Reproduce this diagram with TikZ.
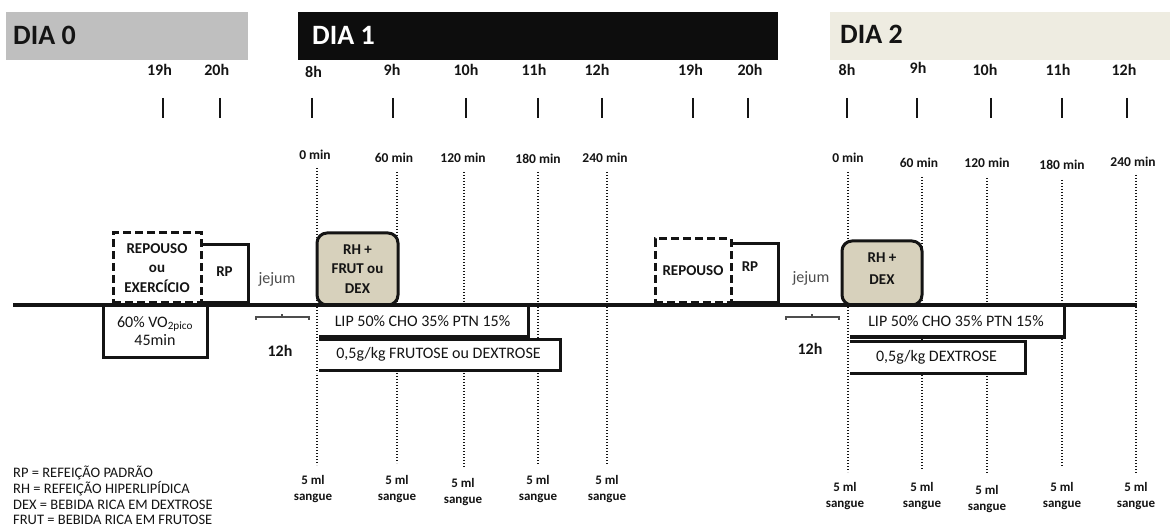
\documentclass[tikz,border=0pt]{standalone}
\usepackage{fontspec}
\setmainfont{Carlito}
\definecolor{hgray}{HTML}{BFBFBF}
\definecolor{hblack}{HTML}{0D0D0D}
\definecolor{hbeige}{HTML}{EEECE1}
\definecolor{tanfill}{HTML}{D7D1BC}
\definecolor{txt}{HTML}{141414}
\definecolor{jej}{HTML}{4D4D4D}
\begin{document}
\begin{tikzpicture}[x=1pt,y=-1pt,
  hdr/.style={font=\fontsize{28}{30}\selectfont\bfseries, anchor=base west, inner sep=0},
  bar/.style={anchor=north west, inner sep=0, minimum height=48pt},
  hr/.style={font=\fontsize{16}{18}\selectfont\bfseries, text=txt, anchor=base, inner sep=0},
  mn/.style={font=\fontsize{13.5}{15}\selectfont\bfseries, text=txt, anchor=base, inner sep=0},
  sg/.style={font=\fontsize{13}{15}\selectfont\bfseries, text=txt, anchor=base, inner sep=0},
  tk/.style={line width=1.4pt, draw=txt},
  dotl/.style={line width=2.3pt, dash pattern=on 1.4pt off 1.6pt, draw=txt},
  heavy/.style={line width=3pt, draw=txt},
  dbox/.style={draw=txt, line width=3pt, dash pattern=on 8pt off 4pt, align=center, inner sep=0, font=\fontsize{15}{19.5}\selectfont\bfseries, text=txt},
  bbox/.style={draw=txt, line width=3pt, fill=white, inner sep=0, align=center, font=\fontsize{16}{18}\selectfont, text=txt},
  rhbox/.style={draw=txt, line width=3pt, fill=tanfill, rounded corners=10pt, inner sep=0, align=center, font=\fontsize{15}{19.5}\selectfont\bfseries, text=txt},
  bt/.style={font=\fontsize{15}{18}\selectfont\bfseries, text=txt, anchor=base, inner sep=0},
  jj/.style={font=\fontsize{16}{18}\selectfont, text=jej, anchor=base, inner sep=0},
  lg/.style={font=\fontsize{14.5}{16}\selectfont, text=txt, anchor=base west, inner sep=0},
  brk/.style={line width=1.1pt, draw=jej},
]
\useasboundingbox[fill=white] (0,0) rectangle (1170,529);

% header bars
\node[bar, fill=hgray, minimum width=242pt] (bar0) at (6,12) {};
\node[bar, fill=hblack, minimum width=480pt] (bar1) at (298,12) {};
\node[bar, fill=hbeige, minimum width=340pt] (bar2) at (830,12) {};
\node[hdr, text=txt] (dia0) at (13,45) {DIA 0};
\node[hdr, text=white] (dia1) at (312,45) {DIA 1};
\node[hdr, text=txt] (dia2) at (840,44) {DIA 2};

% hour labels
\foreach \n/\x/\y/\lbl in {a/159.5/76/19h, b/216.7/76/20h, c/313.5/78/8h, d/392/76/9h, e/466/76/10h, f/534/76/11h, g/597/76/12h, h/690.5/76/19h, i/750/76/20h, j/847/76/8h, k/918/74/9h, l/985/76/10h, m/1058/76/11h, n/1124/76/12h}
  {\node[hr] (hr\n) at (\x,\y) {\lbl};}

% ticks
\foreach \n/\x in {a/163, b/220, c/312, d/393, e/466, f/538, g/602, h/693, i/748, j/847, k/917, l/991, m/1062, n/1127}
  {\coordinate (tt\n) at (\x,98); \coordinate (tb\n) at (\x,118); \draw[tk] (tt\n) -- (tb\n);}

% minute labels
\foreach \n/\x/\y/\lbl in {a/315/160/0, b/394/163/60, c/463/163/120, d/538/164/180, e/605/163/240, f/848/163/0, g/919/168/60, h/987/168/120, i/1062/170/180, j/1133/167/240}
  {\node[mn] (mn\n) at (\x,\y) {\lbl\ min};}

% dotted sampling lines
\foreach \n/\x/\a/\b in {a/317/168/465, b/397/172/463, c/464/172/467, d/538/172/465, e/607/172/465, f/848/172/472, g/922/177/470, h/987/178/473, i/1062/180/466, j/1136/175/473}
  {\coordinate (dt\n) at (\x,\a); \coordinate (db\n) at (\x,\b); \draw[dotl] (dt\n) -- (db\n);}

% blood sample labels
\foreach \n/\x/\a in {a/313/484, b/397/484, c/463/487, d/538/484, e/607/484, f/845/491, g/922/491, h/987/494, i/1062/491, j/1136/491}
  {\node[sg] (sa\n) at (\x,\a) {5 ml}; \node[sg] (sb\n) at (\x,\a+16) {sangue};}

% DIA 0 boxes
\node[bbox, minimum width=104pt, minimum height=52pt, font=\fontsize{16}{18}\selectfont] (vo2) at (155,331)
  {60\% VO\textsubscript{2pico}\\45min};
\node[dbox, minimum width=88pt, minimum height=70pt] (rep1) at (157,268) {REPOUSO\\ou\\EXERCÍCIO};
\coordinate (rp1nw) at (201,245); \coordinate (rp1ne) at (248,245);
\coordinate (rp1se) at (248,303); \coordinate (rp1sw) at (201,303);
\draw[heavy] (rp1nw) -- (rp1ne) -- (rp1se) -- (rp1sw);
\node[bt] (rpt1) at (224.5,277) {RP};
\node[jj] (jj1) at (277,284) {jejum};
\coordinate (b1l) at (256,317); \coordinate (b1r) at (309,317); \coordinate (b1m) at (282,317);
\draw[brk] ([yshift=-3pt]b1l) -- (b1l) -- (b1r) -- ([yshift=-3pt]b1r);
\draw[brk] (b1m) -- ([yshift=3pt]b1m);
\node[hr] (h12a) at (280,356) {12h};

% DIA 1 boxes
\node[bbox, minimum width=211pt, minimum height=32pt] (lip1) at (422.5,321) {LIP 50\% CHO 35\% PTN 15\%};
\node[bbox, minimum width=243pt, minimum height=31pt] (fru1) at (438.5,354.5) {0,5g/kg FRUTOSE ou DEXTROSE};
\node[rhbox, minimum width=81pt, minimum height=72pt] (rh1) at (357.5,269) {RH +\\FRUT ou\\DEX};

% DIA 1 evening / DIA 2
\node[dbox, minimum width=76pt, minimum height=64pt] (rep2) at (693,271) {REPOUSO};
\coordinate (rp2nw) at (731,244); \coordinate (rp2ne) at (778,244);
\coordinate (rp2se) at (778,303); \coordinate (rp2sw) at (731,303);
\draw[heavy] (rp2nw) -- (rp2ne) -- (rp2se) -- (rp2sw);
\node[bt] (rpt2) at (750,272) {RP};
\node[jj] (jj2) at (811,283) {jejum};
\coordinate (b2l) at (786,317); \coordinate (b2r) at (839,317); \coordinate (b2m) at (812,317);
\draw[brk] ([yshift=-3pt]b2l) -- (b2l) -- (b2r) -- ([yshift=-3pt]b2r);
\draw[brk] (b2m) -- ([yshift=3pt]b2m);
\node[hr] (h12b) at (810,354) {12h};

\node[bbox, minimum width=216pt, minimum height=32pt] (lip2) at (956,321) {LIP 50\% CHO 35\% PTN 15\%};
\node[bbox, minimum width=177pt, minimum height=32pt] (dex2) at (936.5,357) {0,5g/kg DEXTROSE};
\node[rhbox, minimum width=80pt, minimum height=64pt, font=\fontsize{15}{22}\selectfont\bfseries, text depth=8pt] (rh2) at (882,273) {RH +\\DEX};

% 0 min lines redrawn over the left edges of the boxes
\coordinate (za) at (317,307); \coordinate (zb) at (317,373);
\draw[white, line width=3.4pt] (za) -- (zb);
\draw[dotl] (za) -- (zb);
\coordinate (zc) at (848,307); \coordinate (zd) at (848,375);
\draw[white, line width=3.4pt] (zc) -- (zd);
\draw[dotl] (zc) -- (zd);

% main time line
\coordinate (L0) at (13,305); \coordinate (L1) at (1137,305);
\draw[line width=3.5pt, draw=txt] (L0) -- (L1);

% legend
\node[lg] (lg1) at (13,477) {RP = REFEIÇÃO PADRÃO};
\node[lg] (lg2) at (13,493) {RH = REFEIÇÃO HIPERLIPÍDICA};
\node[lg] (lg3) at (13,509) {DEX = BEBIDA RICA EM DEXTROSE};
\node[lg] (lg4) at (13,524) {FRUT = BEBIDA RICA EM FRUTOSE};
\end{tikzpicture}
\end{document}
